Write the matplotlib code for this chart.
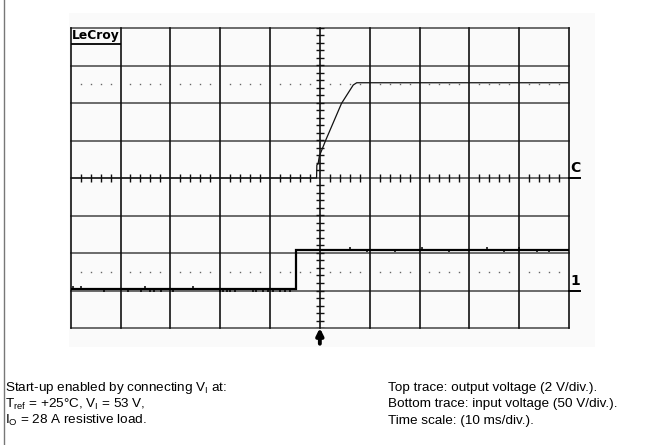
import numpy as np
import matplotlib.pyplot as plt
from matplotlib.patches import Rectangle
from matplotlib.lines import Line2D

plt.rcParams.update(
    {
        "font.family": "Liberation Sans",
        "mathtext.fontset": "custom",
        "mathtext.rm": "Liberation Sans",
        "mathtext.it": "Liberation Sans:italic",
    }
)

# screen layout: 10 ms/div, trigger at t = 0, 8 vertical divisions
grid_t = [-50, -40, -30, -20, -10, 0, 10, 20, 30, 40, 50]
grid_div = [-4, -3, -2, -1, 0, 1, 2, 3, 4]

# top trace: output voltage (V), 2 V/div, ground at centre
top_t = [-50, -0.66, -0.6, -0.35, -0.1, 1.2, 4.35, 6.7, 7.4, 50]
top_v = [0.0, 0.0, 0.7, 0.75, 1.17, 2.03, 3.98, 4.96, 5.08, 5.08]
top_scale = 2.0
top_ground = 0.0

# bottom trace: input voltage (V), 50 V/div, ground 3 div below centre
bot_t = [-50, -4.8, -4.8, 50]
bot_v = [2.0, 2.0, 54.0, 54.0]
bot_scale = 50.0
bot_ground = -3.0

# small glitches on the input trace (time ms, offset in div)
glitch_t = [-49.6, -48.0, -43.3, -38.5, -35.8, -35.1, -34.0, -33.3, -31.8,
            -29.5, -25.5, -20.1, -19.4, -18.7, -18.1, -17.1, -13.5, -12.8,
            -11.4, -10.4, -9.4, -8.0, -7.0, -6.0,
            6.0, 9.5, 15.0, 20.5, 26.0, 33.5, 37.0, 40.0, 43.5, 46.0]
glitch_dv = [0.08, 0.08, -0.07, -0.07, -0.07, 0.07, -0.07, -0.07, -0.07,
             -0.08, 0.08, -0.07, -0.07, -0.07, -0.07, -0.07, -0.07, -0.07,
             -0.07, -0.07, -0.07, -0.07, -0.07, -0.07,
             0.07, -0.06, -0.06, 0.07, -0.06, 0.07, -0.06, 0.08, -0.06, -0.06]

left_notes = [
    r"Start-up enabled by connecting V$_{\rm I}$ at:",
    r"T$_{\rm ref}$ = +25°C, V$_{\rm I}$ = 53 V,",
    r"I$_{\rm O}$ = 28 A resistive load.",
]
right_notes = [
    "Top trace: output voltage (2 V/div.).",
    "Bottom trace: input voltage (50 V/div.).",
    "Time scale: (10 ms/div.).",
]

W, H = 653, 445
fig = plt.figure(figsize=(W / 100, H / 100), dpi=100)
fig.patch.set_facecolor("white")

# faint screen background and the page rule on the left
fig.patches.append(
    Rectangle((69 / W, 1 - 347 / H), (595 - 69) / W, (347 - 13) / H,
              transform=fig.transFigure, facecolor="#fafafa",
              edgecolor="none", zorder=-5)
)
fig.add_artist(Line2D([3.5 / W, 3.5 / W], [0, 1], color="#777777", lw=1.0))

ax = fig.add_axes([70.7 / W, 1 - 328 / H, (569 - 70.7) / W, 300 / H])
ax.set_zorder(2)
ax.set_xlim(grid_t[0], grid_t[-1])
ax.set_ylim(grid_div[0], grid_div[-1])
ax.axis("off")

# graticule
for y in grid_div:
    ax.axhline(y, color="#444444", lw=1.1, clip_on=False, zorder=1)
for x in grid_t:
    ax.axvline(x, color="#111111", lw=1.2, clip_on=False, zorder=1)

# minor ticks on the centre lines
minor_t = [t for t in np.arange(-50, 50.1, 2) if t % 10 != 0]
ax.vlines(minor_t, -0.11, 0.11, color="#111111", lw=1.0, zorder=1)
minor_v = [v for v in np.arange(-4, 4.01, 0.2) if abs(v) > 0.01]
ax.hlines(minor_v, -0.85, 0.85, color="#111111", lw=1.0, zorder=1)

# dotted reference lines at +/- 2.5 div
for y in (2.5, -2.5):
    ax.plot(minor_t, [y] * len(minor_t), ls="none", marker="s",
            markersize=1.0, color="#666666", mec="none", zorder=1)

# traces
top_y = np.array(top_v) / top_scale + top_ground
ax.plot(top_t, top_y, color="#111111", lw=0.9, zorder=3)

bot_y = np.array(bot_v) / bot_scale + bot_ground
ax.plot(bot_t, bot_y, color="#000000", lw=1.6, zorder=3,
        solid_joinstyle="miter")
g_base = np.interp(glitch_t, [-50, -4.81, -4.79, 50], bot_y)
ax.vlines(glitch_t, g_base, g_base + np.array(glitch_dv), color="#000000",
          lw=1.1, zorder=3)

# channel markers on the right edge
ax.text(50.2, top_ground + 0.07, "C", fontsize=10, fontweight="bold",
        family="DejaVu Sans", va="bottom", ha="left", clip_on=False)
ax.plot([50, 52.3], [top_ground, top_ground], color="black", lw=1.4,
        clip_on=False)
ax.text(50.2, bot_ground + 0.07, "1", fontsize=10, fontweight="bold",
        family="DejaVu Sans", va="bottom", ha="left", clip_on=False)
ax.plot([50, 52.3], [bot_ground, bot_ground], color="black", lw=1.4,
        clip_on=False)

# trigger arrow
ax.annotate("", xy=(0, -4.0), xytext=(0, -4.42),
            arrowprops=dict(arrowstyle="-|>", lw=2.8, color="black",
                            mutation_scale=10, shrinkA=0, shrinkB=0),
            annotation_clip=False)

# scope brand
ax.text(-49.7, 3.62, "LeCroy", fontsize=8.8, fontweight="bold",
        family="DejaVu Sans", va="bottom", ha="left")
ax.plot([-49.7, -40.2], [3.57, 3.57], color="black", lw=1.3)

# notes under the screen
for i, (l, r) in enumerate(zip(left_notes, right_notes)):
    yb = 1 - (391 + 16.5 * i) / H
    fig.text(5 / W, yb, l, fontsize=9.7, va="baseline", ha="left")
    fig.text(388 / W, yb, r, fontsize=9.7, va="baseline", ha="left")

fig.savefig("out.png", dpi=100)
